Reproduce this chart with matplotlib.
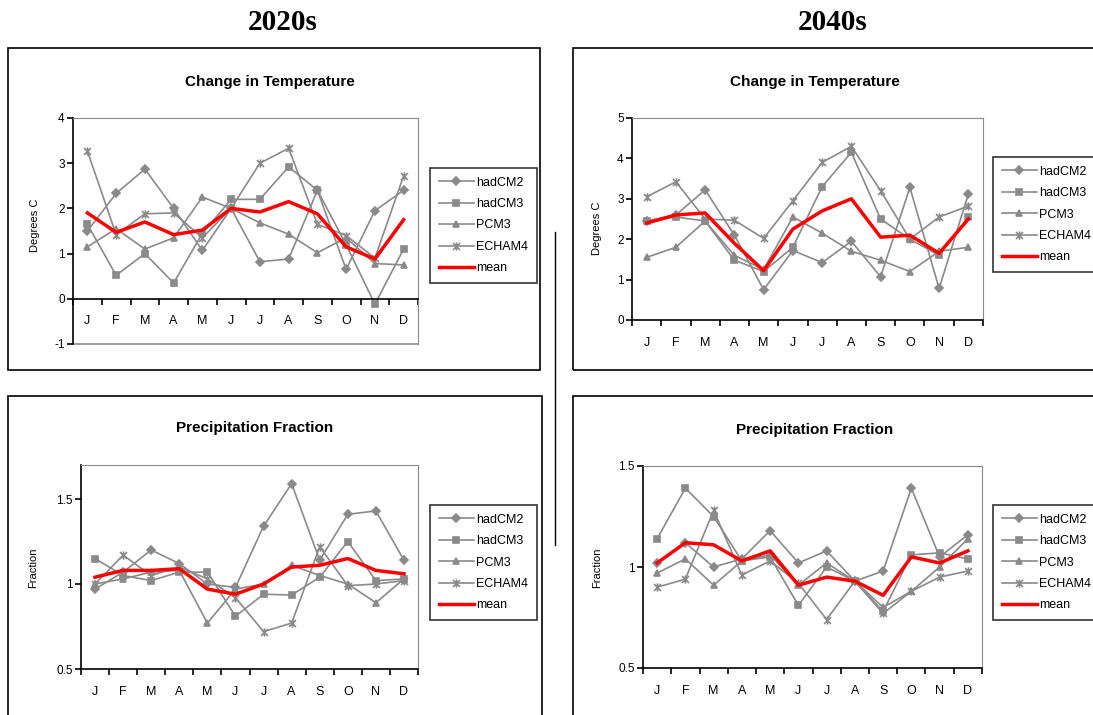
import matplotlib
matplotlib.use("Agg")
import matplotlib.pyplot as plt
from matplotlib.patches import Rectangle
from matplotlib.lines import Line2D
from matplotlib.path import Path

months = ['J', 'F', 'M', 'A', 'M', 'J', 'J', 'A', 'S', 'O', 'N', 'D']
models = ['hadCM2', 'hadCM3', 'PCM3', 'ECHAM4']

# 2020s temperature change (deg C)
t20_hadcm2 = [1.5, 2.33, 2.87, 2.0, 1.07, 2.0, 0.82, 0.88, 2.4, 0.65, 1.95, 2.4]
t20_hadcm3 = [1.65, 0.52, 1.0, 0.35, 1.45, 2.2, 2.2, 2.92, 2.4, 1.2, -0.12, 1.1]
t20_pcm3 = [1.15, 1.55, 1.1, 1.35, 2.25, 2.0, 1.68, 1.43, 1.02, 1.35, 0.78, 0.75]
t20_echam4 = [3.27, 1.42, 1.88, 1.9, 1.35, 2.0, 3.0, 3.33, 1.65, 1.4, 0.9, 2.72]
t20_mean = [1.9, 1.47, 1.7, 1.42, 1.52, 2.0, 1.92, 2.15, 1.88, 1.15, 0.88, 1.75]

# 2040s temperature change (deg C)
t40_hadcm2 = [2.45, 2.6, 3.22, 2.1, 0.75, 1.72, 1.42, 1.95, 1.07, 3.28, 0.78, 3.12]
t40_hadcm3 = [2.45, 2.55, 2.45, 1.48, 1.2, 1.8, 3.3, 4.15, 2.5, 2.0, 1.6, 2.55]
t40_pcm3 = [1.55, 1.8, 2.45, 1.6, 1.25, 2.55, 2.15, 1.7, 1.48, 1.2, 1.7, 1.8]
t40_echam4 = [3.05, 3.42, 2.5, 2.47, 2.02, 2.95, 3.9, 4.3, 3.2, 2.0, 2.55, 2.82]
t40_mean = [2.4, 2.6, 2.65, 1.9, 1.22, 2.25, 2.7, 3.0, 2.05, 2.1, 1.65, 2.5]

# 2020s precipitation fraction
p20_hadcm2 = [0.97, 1.07, 1.2, 1.12, 1.0, 0.98, 1.34, 1.59, 1.14, 1.41, 1.43, 1.14]
p20_hadcm3 = [1.15, 1.05, 1.02, 1.07, 1.07, 0.81, 0.94, 0.935, 1.04, 1.25, 1.02, 1.03]
p20_pcm3 = [1.0, 1.03, 1.07, 1.08, 0.77, 0.97, 1.0, 1.11, 1.05, 1.0, 0.89, 1.03]
p20_echam4 = [1.0, 1.17, 1.05, 1.1, 1.03, 0.92, 0.72, 0.77, 1.22, 0.99, 1.0, 1.02]
p20_mean = [1.04, 1.08, 1.08, 1.09, 0.97, 0.94, 1.0, 1.1, 1.11, 1.15, 1.08, 1.06]

# 2040s precipitation fraction
p40_hadcm2 = [1.02, 1.12, 1.0, 1.04, 1.18, 1.02, 1.08, 0.93, 0.98, 1.39, 1.05, 1.16]
p40_hadcm3 = [1.14, 1.39, 1.25, 1.03, 1.05, 0.81, 1.0, 0.93, 0.78, 1.06, 1.07, 1.04]
p40_pcm3 = [0.97, 1.04, 0.91, 1.03, 1.06, 0.91, 1.02, 0.93, 0.8, 0.88, 1.0, 1.14]
p40_echam4 = [0.9, 0.94, 1.28, 0.96, 1.03, 0.92, 0.74, 0.93, 0.77, 0.88, 0.95, 0.98]
p40_mean = [1.02, 1.12, 1.11, 1.03, 1.08, 0.91, 0.95, 0.93, 0.86, 1.05, 1.02, 1.08]

W, H = 1093, 715
GRAY = '#8a8a8a'
FONT = 'Liberation Sans'

# x with a vertical bar, like the Excel "star" marker
star = Path([(-1, -1), (1, 1), (-1, 1), (1, -1), (0, 1.2), (0, -1.2)],
            [Path.MOVETO, Path.LINETO, Path.MOVETO, Path.LINETO, Path.MOVETO, Path.LINETO])
marks = {'hadCM2': ('D', 4), 'hadCM3': ('s', 5), 'PCM3': ('^', 5), 'ECHAM4': (star, 6)}

fig = plt.figure(figsize=(W / 100, H / 100), dpi=100)


def fx(x):
    return x / W


def fy(y):
    return 1 - y / H


def box(x0, y0, x1, y1, lw=1.2, color='black'):
    fig.patches.append(Rectangle((fx(x0), fy(y1)), fx(x1 - x0), (y1 - y0) / H,
                                 transform=fig.transFigure, fill=False,
                                 edgecolor=color, linewidth=lw))


# outer frames
box(8, 48, 540, 370)
box(573, 48, 1100, 370)
box(8, 396, 542, 720)
box(573, 396, 1100, 720)
fig.add_artist(Line2D([fx(555), fx(555)], [fy(232), fy(545)], color='black', lw=1,
                      transform=fig.transFigure))

fig.text(fx(283), fy(23), '2020s', ha='center', va='center', fontsize=21,
         fontweight='bold', family='Liberation Serif')
fig.text(fx(833), fy(23), '2040s', ha='center', va='center', fontsize=21,
         fontweight='bold', family='Liberation Serif')


def panel(rect, series, mean, ylim, yticks, yticklabels, title, title_xy, ylab, ylab_xy,
          leg_xy, zero_axis=False):
    x0, y0, x1, y1 = rect
    ax = fig.add_axes([fx(x0), fy(y1), fx(x1 - x0), (y1 - y0) / H])
    xs = list(range(12))

    # spine position first: moving it resets the ticks
    for s in ('top', 'right'):
        ax.spines[s].set_color(GRAY)
    ax.spines['left'].set_color('black')
    ax.spines['left'].set_linewidth(1.2)
    ax.spines['bottom'].set_color('black')
    ax.spines['bottom'].set_linewidth(1.2)
    if zero_axis:
        ax.spines['bottom'].set_position(('data', 0))
        ax.axhline(ylim[0], color=GRAY, lw=1.2, clip_on=False)

    for name, vals in zip(models, series):
        m, ms = marks[name]
        ax.plot(xs, vals, color=GRAY, lw=1.2, marker=m, markersize=ms,
                markerfacecolor=GRAY, markeredgecolor=GRAY, markeredgewidth=1.2,
                label=name, clip_on=False)
    ax.plot(xs, mean, color='#ff0000', lw=2.5, label='mean', zorder=5)

    ax.set_xlim(-0.5, 11.5)
    ax.set_ylim(*ylim)
    ax.set_yticks(yticks)
    ax.set_yticklabels(yticklabels, family=FONT, fontsize=8.5)
    ax.set_xticks([i - 0.5 for i in range(13)])
    ax.set_xticklabels([])
    ax.set_xticks(xs, minor=True)
    ax.set_xticklabels(months, minor=True, family=FONT, fontsize=9)
    ax.tick_params(axis='x', which='minor', length=0, pad=12)
    ax.tick_params(axis='x', which='major', length=4, width=1.2, direction='out')
    ax.tick_params(axis='y', length=4, width=1.2, direction='out', pad=2)

    fig.text(fx(title_xy[0]), fy(title_xy[1]), title, ha='center', va='center',
             family=FONT, fontsize=11, fontweight='bold')
    fig.text(fx(ylab_xy[0]), fy(ylab_xy[1]), ylab, rotation=90, ha='center', va='center',
             family=FONT, fontsize=8)

    leg = ax.legend(loc='upper left', bbox_to_anchor=(fx(leg_xy[0]), fy(leg_xy[1])),
                    bbox_transform=fig.transFigure, frameon=True, fancybox=False,
                    edgecolor='black', prop={'family': FONT, 'size': 9},
                    handlelength=2.8, handletextpad=0.2, labelspacing=0.75,
                    borderpad=0.7, borderaxespad=0)
    leg.get_frame().set_linewidth(1.2)
    return ax


panel((73, 118, 418, 344),
      [t20_hadcm2, t20_hadcm3, t20_pcm3, t20_echam4], t20_mean,
      (-1, 4), [-1, 0, 1, 2, 3, 4], ['-1', '0', '1', '2', '3', '4'],
      'Change in Temperature', (270, 82), 'Degrees C', (35, 225), (430, 168), zero_axis=True)

panel((632, 118, 983, 320),
      [t40_hadcm2, t40_hadcm3, t40_pcm3, t40_echam4], t40_mean,
      (0, 5), [0, 1, 2, 3, 4, 5], ['0', '1', '2', '3', '4', '5'],
      'Change in Temperature', (815, 82), 'Degrees C', (597, 228), (993, 157))

panel((81, 465, 418, 669),
      [p20_hadcm2, p20_hadcm3, p20_pcm3, p20_echam4], p20_mean,
      (0.5, 1.7), [0.5, 1.0, 1.5], ['0.5', '1', '1.5'],
      'Precipitation Fraction', (255, 428), 'Fraction', (33, 568), (430, 505))

panel((643, 466, 982, 668),
      [p40_hadcm2, p40_hadcm3, p40_pcm3, p40_echam4], p40_mean,
      (0.5, 1.5), [0.5, 1.0, 1.5], ['0.5', '1', '1.5'],
      'Precipitation Fraction', (815, 430), 'Fraction', (597, 568), (993, 505))

fig.savefig('out.png', dpi=100)
